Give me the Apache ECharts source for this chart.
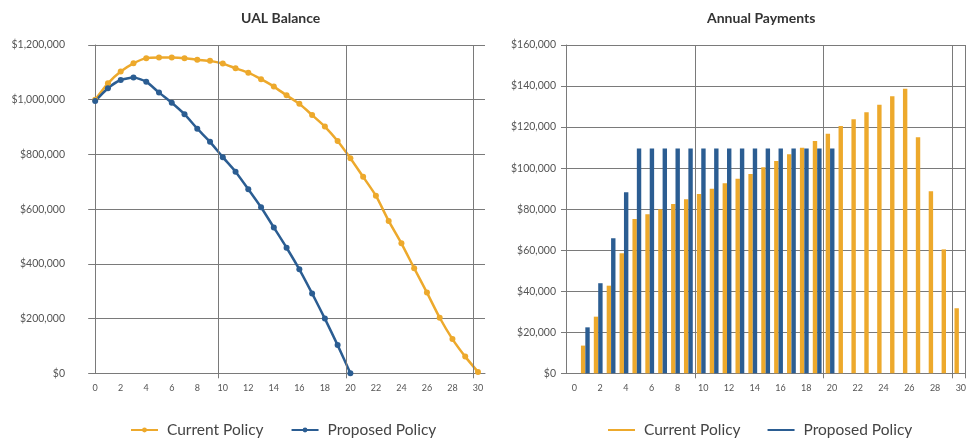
<!DOCTYPE html>
<html>
<head>
<meta charset="utf-8">
<title>UAL Balance and Annual Payments</title>
<script src="https://cdn.jsdelivr.net/npm/echarts@6/dist/echarts.min.js"></script>
<style>
  html, body { margin: 0; padding: 0; background: #ffffff; }
  #chart { width: 969px; height: 439px; }
</style>
</head>
<body>
<div id="chart"></div>
<script>
// Years of the amortization schedule
const years = [0, 1, 2, 3, 4, 5, 6, 7, 8, 9, 10, 11, 12, 13, 14, 15, 16, 17, 18, 19, 20,
               21, 22, 23, 24, 25, 26, 27, 28, 29, 30];
const yearTicks = [0, 2, 4, 6, 8, 10, 12, 14, 16, 18, 20, 22, 24, 26, 28, 30];

// Unfunded actuarial liability balance by year
const currentBalance = [1000000, 1060000, 1103000, 1133000, 1152000, 1154000, 1154000, 1152000,
  1146000, 1142000, 1132000, 1115000, 1099000, 1075000, 1048000, 1016000, 985000, 944000,
  902000, 849000, 786000, 718000, 649000, 557000, 475000, 384000, 295000, 203000, 125000,
  61000, 5000];
const proposedBalance = [995000, 1042000, 1072000, 1081000, 1066000, 1026000, 989000, 947000,
  894000, 846000, 790000, 737000, 673000, 607000, 533000, 459000, 380000, 292000, 200000,
  103000, 0];

// Annual payments by year
const currentPayment = [null, 13500, 27600, 42700, 58500, 75200, 77500, 79900, 82500, 84800,
  87400, 90000, 92600, 94800, 97100, 100400, 103500, 106700, 109900, 113200, 116800, 120500,
  123800, 127200, 130900, 135000, 138700, 115000, 88700, 60400, 31700];
const proposedPayment = [null, 22400, 43900, 65800, 88200, 109600, 109600, 109600, 109600,
  109600, 109600, 109600, 109600, 109600, 109600, 109600, 109600, 109600, 109600, 109600,
  109600, null, null, null, null, null, null, null, null, null, null];

const seriesNames = ['Current Policy', 'Proposed Policy'];
const titles = ['UAL Balance', 'Annual Payments'];

const ORANGE = '#EDA92C';
const BLUE = '#2B5D92';
const GRID = '#7a7a7a';
const TEXT = '#555555';
const FONT = 'Lato, "Open Sans", sans-serif';

const money = v => '$' + v.toLocaleString('en-US');
const pairs = (xs, ys) => ys.map((y, i) => [xs[i], y]);

const chart = echarts.init(document.getElementById('chart'), null, { renderer: 'canvas' });

const gridLine = { lineStyle: { color: GRID, width: 1 } };
const titleStyle = { fontSize: 14, fontWeight: 'bold', color: '#333', fontFamily: FONT };
const legendText = { fontSize: 15.5, color: '#444', fontFamily: FONT, padding: [0, 0, 0, 4] };

chart.setOption({
  animation: false,
  textStyle: { fontFamily: FONT },
  title: [
    { text: titles[0], left: 241, top: 11, padding: 0, textStyle: titleStyle },
    { text: titles[1], left: 707, top: 11, padding: 0, textStyle: titleStyle }
  ],
  legend: [
    { data: seriesNames.map(n => ({ name: n })), left: 130, top: 422, padding: 0,
      itemWidth: 27, itemHeight: 6, itemGap: 27, textStyle: legendText,
      seriesIndex: [0, 1] },
    { data: seriesNames.map(n => ({ name: n + ' ' })), left: 608, top: 422, padding: 0,
      itemWidth: 27, itemHeight: 2, icon: 'rect', itemGap: 27, textStyle: legendText,
      formatter: n => n.trim() }
  ],
  grid: [
    { left: 92, top: 45, width: 393, height: 328.3, containLabel: false },
    { left: 566, top: 45, width: 405, height: 328.3, containLabel: false }
  ],
  xAxis: [
    { type: 'value', gridIndex: 0, min: -0.25, max: 30.55,
      axisLine: { show: true, lineStyle: { color: GRID } },
      axisTick: { show: true, length: 5, customValues: [9.65, 19.65, 29.65], lineStyle: { color: GRID } },
      splitLine: { show: false },
      axisLabel: { customValues: yearTicks, fontSize: 9, color: TEXT, margin: 10 } },
    { type: 'category', gridIndex: 1, data: years, boundaryGap: true,
      axisLine: { show: true, lineStyle: { color: GRID } },
      axisTick: { show: true, length: 5, interval: i => i > 0 && i % 10 === 0, lineStyle: { color: GRID } },
      splitLine: { show: true, interval: i => i > 0 && i % 10 === 0, lineStyle: { color: GRID } },
      axisLabel: { interval: 1, fontSize: 9, color: TEXT, margin: 10, padding: [0, 0, 0, 4] } }
  ],
  yAxis: [
    { type: 'value', gridIndex: 0, min: 0, max: 1200000, interval: 200000,
      axisLine: { show: true, lineStyle: { color: GRID } },
      axisTick: { show: true, length: 7, lineStyle: { color: GRID } },
      splitLine: gridLine,
      axisLabel: { formatter: money, fontSize: 10.5, color: TEXT, margin: 27 } },
    { type: 'value', gridIndex: 1, min: 0, max: 160000, interval: 20000,
      axisLine: { show: true, lineStyle: { color: GRID } },
      axisTick: { show: true, length: 5, lineStyle: { color: GRID } },
      splitLine: gridLine,
      axisLabel: { formatter: money, fontSize: 10.5, color: TEXT, margin: 10 } }
  ],
  series: [
    { name: seriesNames[0], type: 'line', xAxisIndex: 0, yAxisIndex: 0,
      data: pairs(years, currentBalance), smooth: 0.2,
      symbol: 'circle', symbolSize: 6,
      lineStyle: { color: ORANGE, width: 2.5 }, itemStyle: { color: ORANGE },
      markLine: { silent: true, symbol: 'none', label: { show: false },
        lineStyle: { color: GRID, width: 1, type: 'solid' },
        data: [{ xAxis: 9.65 }, { xAxis: 19.65 }, { xAxis: 29.65 }] } },
    { name: seriesNames[1], type: 'line', xAxisIndex: 0, yAxisIndex: 0,
      data: pairs(years, proposedBalance), smooth: 0.2,
      symbol: 'circle', symbolSize: 6,
      lineStyle: { color: BLUE, width: 2.5 }, itemStyle: { color: BLUE } },
    { name: seriesNames[0] + ' ', type: 'bar', xAxisIndex: 1, yAxisIndex: 1,
      data: currentPayment, barWidth: 4.4, barGap: '0%',
      itemStyle: { color: ORANGE } },
    { name: seriesNames[1] + ' ', type: 'bar', xAxisIndex: 1, yAxisIndex: 1,
      data: proposedPayment, barWidth: 4.4, barGap: '0%',
      itemStyle: { color: BLUE } }
  ]
});
</script>
</body>
</html>
